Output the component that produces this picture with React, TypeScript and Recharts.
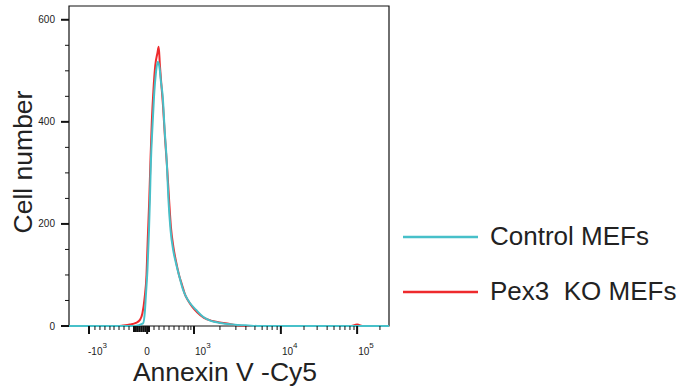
import React from "react";
import {
  LineChart,
  Line,
  XAxis,
  YAxis,
  ReferenceArea,
  Legend,
} from "recharts";

// histogram x positions are display channels (0-1024 across the plot)
const controlChannels = [
  0, 179, 211, 237, 243, 246, 251, 256, 259, 262, 267, 272, 278, 284, 290, 294,
  300, 306, 313, 318, 325, 333, 342, 354, 365, 374, 387, 406, 429, 454, 483,
  522, 573, 611, 1024,
];
const controlCounts = [
  0, 0, 0, 5, 30, 60, 110, 188, 250, 320, 390, 449, 495, 518, 505, 480, 449,
  385, 320, 250, 188, 150, 124, 95, 71, 58, 45, 32, 18, 10, 6, 3, 1, 0, 0,
];

const koChannels = [
  0, 157, 173, 195, 214, 227, 235, 242, 248, 252, 257, 261, 265, 270, 276, 283,
  287, 291, 296, 301, 307, 314, 320, 326, 334, 342, 352, 362, 371, 381, 394,
  410, 432, 458, 483, 506, 531, 563, 899, 915, 922, 928, 938, 1024,
];
const koCounts = [
  0, 0, 1, 3, 6, 12, 25, 55, 100, 170, 250, 330, 400, 460, 510, 535, 547, 510,
  470, 430, 370, 310, 250, 195, 155, 128, 100, 80, 62, 50, 38, 27, 16, 10, 7, 5,
  2, 0, 0, 2, 3, 2, 0, 0,
];

// x axis ticks (channel positions of the biexponential scale)
const xMajorTicks = [64, 250, 400, 678, 922];
const xMajorBases = ["-10", "0", "10", "10", "10"];
const xMajorPowers = ["3", "", "3", "4", "5"];
const xMinorTicks = [
  83, 99, 115, 131, 144, 160, 176, 192, 272, 288, 304, 320, 336, 352, 368, 381,
  390, 483, 534, 566, 595, 618, 634, 650, 666, 752, 794, 826, 848, 867, 883,
  899, 912, 995,
];
const xDenseTicks = [208, 214, 220, 226, 232, 238, 244, 256];

const yTicks = [0, 50, 100, 150, 200, 250, 300, 350, 400, 450, 500, 550, 600];
const yMajorTicks = [0, 200, 400, 600];

const controlData = controlChannels.map((c, i) => ({ ch: c, count: controlCounts[i] }));
const koData = koChannels.map((c, i) => ({ ch: c, count: koCounts[i] }));

const allXTicks = [...xMajorTicks, ...xMinorTicks, ...xDenseTicks].sort((a, b) => a - b);

const FONT = '"Liberation Sans", Arial, sans-serif';
const CYAN = "#47c0c9";
const RED = "#ee2a2c";

const XTick = (props: any) => {
  const { x, y, payload } = props;
  const v = payload.value;
  const mi = xMajorTicks.indexOf(v);
  if (mi >= 0) {
    const base = xMajorBases[mi];
    const pow = xMajorPowers[mi];
    return (
      <g>
        <line x1={x} x2={x} y1={y} y2={y + 8} stroke="#111" strokeWidth={2} />
        {pow ? (
          <text x={base.startsWith("-") ? x - 1 : x + 1} y={y + 29} fontSize={10} fill="#222" fontFamily={FONT}>
            {base}
            <tspan dy={-7} fontSize={8}>{pow}</tspan>
          </text>
        ) : (
          <text x={x} y={y + 29} fontSize={10} fill="#222" textAnchor="middle" fontFamily={FONT}>
            {base}
          </text>
        )}
      </g>
    );
  }
  const dense = xDenseTicks.includes(v);
  return (
    <line
      x1={x}
      x2={x}
      y1={y}
      y2={y + (dense ? 6 : 4)}
      stroke="#111"
      strokeWidth={dense ? 2 : 1}
    />
  );
};

const YTick = (props: any) => {
  const { x, y, payload } = props;
  const major = yMajorTicks.includes(payload.value);
  return (
    <g>
      <line x1={x - (major ? 8 : 4)} x2={x} y1={y} y2={y} stroke="#111" strokeWidth={major ? 2 : 1} />
      {major && (
        <text x={x - 14} y={y + 3.5} fontSize={10} fill="#222" textAnchor="end" fontFamily={FONT}>
          {payload.value}
        </text>
      )}
    </g>
  );
};

const legendItems = [
  { name: "Control MEFs", color: CYAN },
  { name: "Pex3  KO MEFs", color: RED },
];

const renderLegend = () => (
  <svg width={287} height={110} style={{ display: "block" }}>
    {legendItems.map((item, i) => (
      <g key={item.name}>
        <line x1={8} x2={83} y1={37 + i * 55} y2={37 + i * 55} stroke={item.color} strokeWidth={2.5} />
        <text x={95} y={45 + i * 55} fontSize={26} fill="#222" fontFamily={FONT} style={{ whiteSpace: "pre" }}>
          {item.name}
        </text>
      </g>
    ))}
  </svg>
);

export default function App() {
  return (
    <div style={{ position: "absolute", left: 0, top: 0, width: 682, height: 390, background: "#fff" }}>
      <LineChart
        width={682}
        height={390}
        margin={{ top: 6, right: 293, left: 0, bottom: 0 }}
      >
        <XAxis
          dataKey="ch"
          type="number"
          domain={[0, 1024]}
          ticks={allXTicks}
          interval={0}
          tick={<XTick />}
          tickLine={false}
          tickSize={0}
          tickMargin={0}
          axisLine={false}
          height={64}
          allowDuplicatedCategory={false}
          label={(p: any) => {
            const vb = p.viewBox;
            return (
              <text x={vb.x + vb.width / 2 - 4} y={vb.y + 55} fontSize={26.5} fill="#222" textAnchor="middle" fontFamily={FONT}>
                Annexin V -Cy5
              </text>
            );
          }}
        />
        <YAxis
          type="number"
          domain={[0, 627]}
          ticks={yTicks}
          interval={0}
          tick={<YTick />}
          tickLine={false}
          tickSize={0}
          tickMargin={0}
          axisLine={false}
          width={69}
          label={() => (
            <text
              x={32}
              y={162}
              fontSize={26.5}
              fill="#222"
              textAnchor="middle"
              fontFamily={FONT}
              transform="rotate(-90 32 162)"
            >
              Cell number
            </text>
          )}
        />
        <ReferenceArea x1={0} x2={1024} y1={0} y2={627} fill="none" stroke="#111" strokeWidth={1.2} />
        <Line
          data={koData}
          dataKey="count"
          name="Pex3 KO MEFs"
          type="monotone"
          stroke={RED}
          strokeWidth={2}
          dot={false}
          isAnimationActive={false}
        />
        <Line
          data={controlData}
          dataKey="count"
          name="Control MEFs"
          type="monotone"
          stroke={CYAN}
          strokeWidth={2}
          dot={false}
          isAnimationActive={false}
        />
        <Legend
          layout="vertical"
          align="center"
          verticalAlign="middle"
          content={renderLegend}
          wrapperStyle={{ left: 395, top: 200, width: 287, height: 110 }}
        />
      </LineChart>
    </div>
  );
}
